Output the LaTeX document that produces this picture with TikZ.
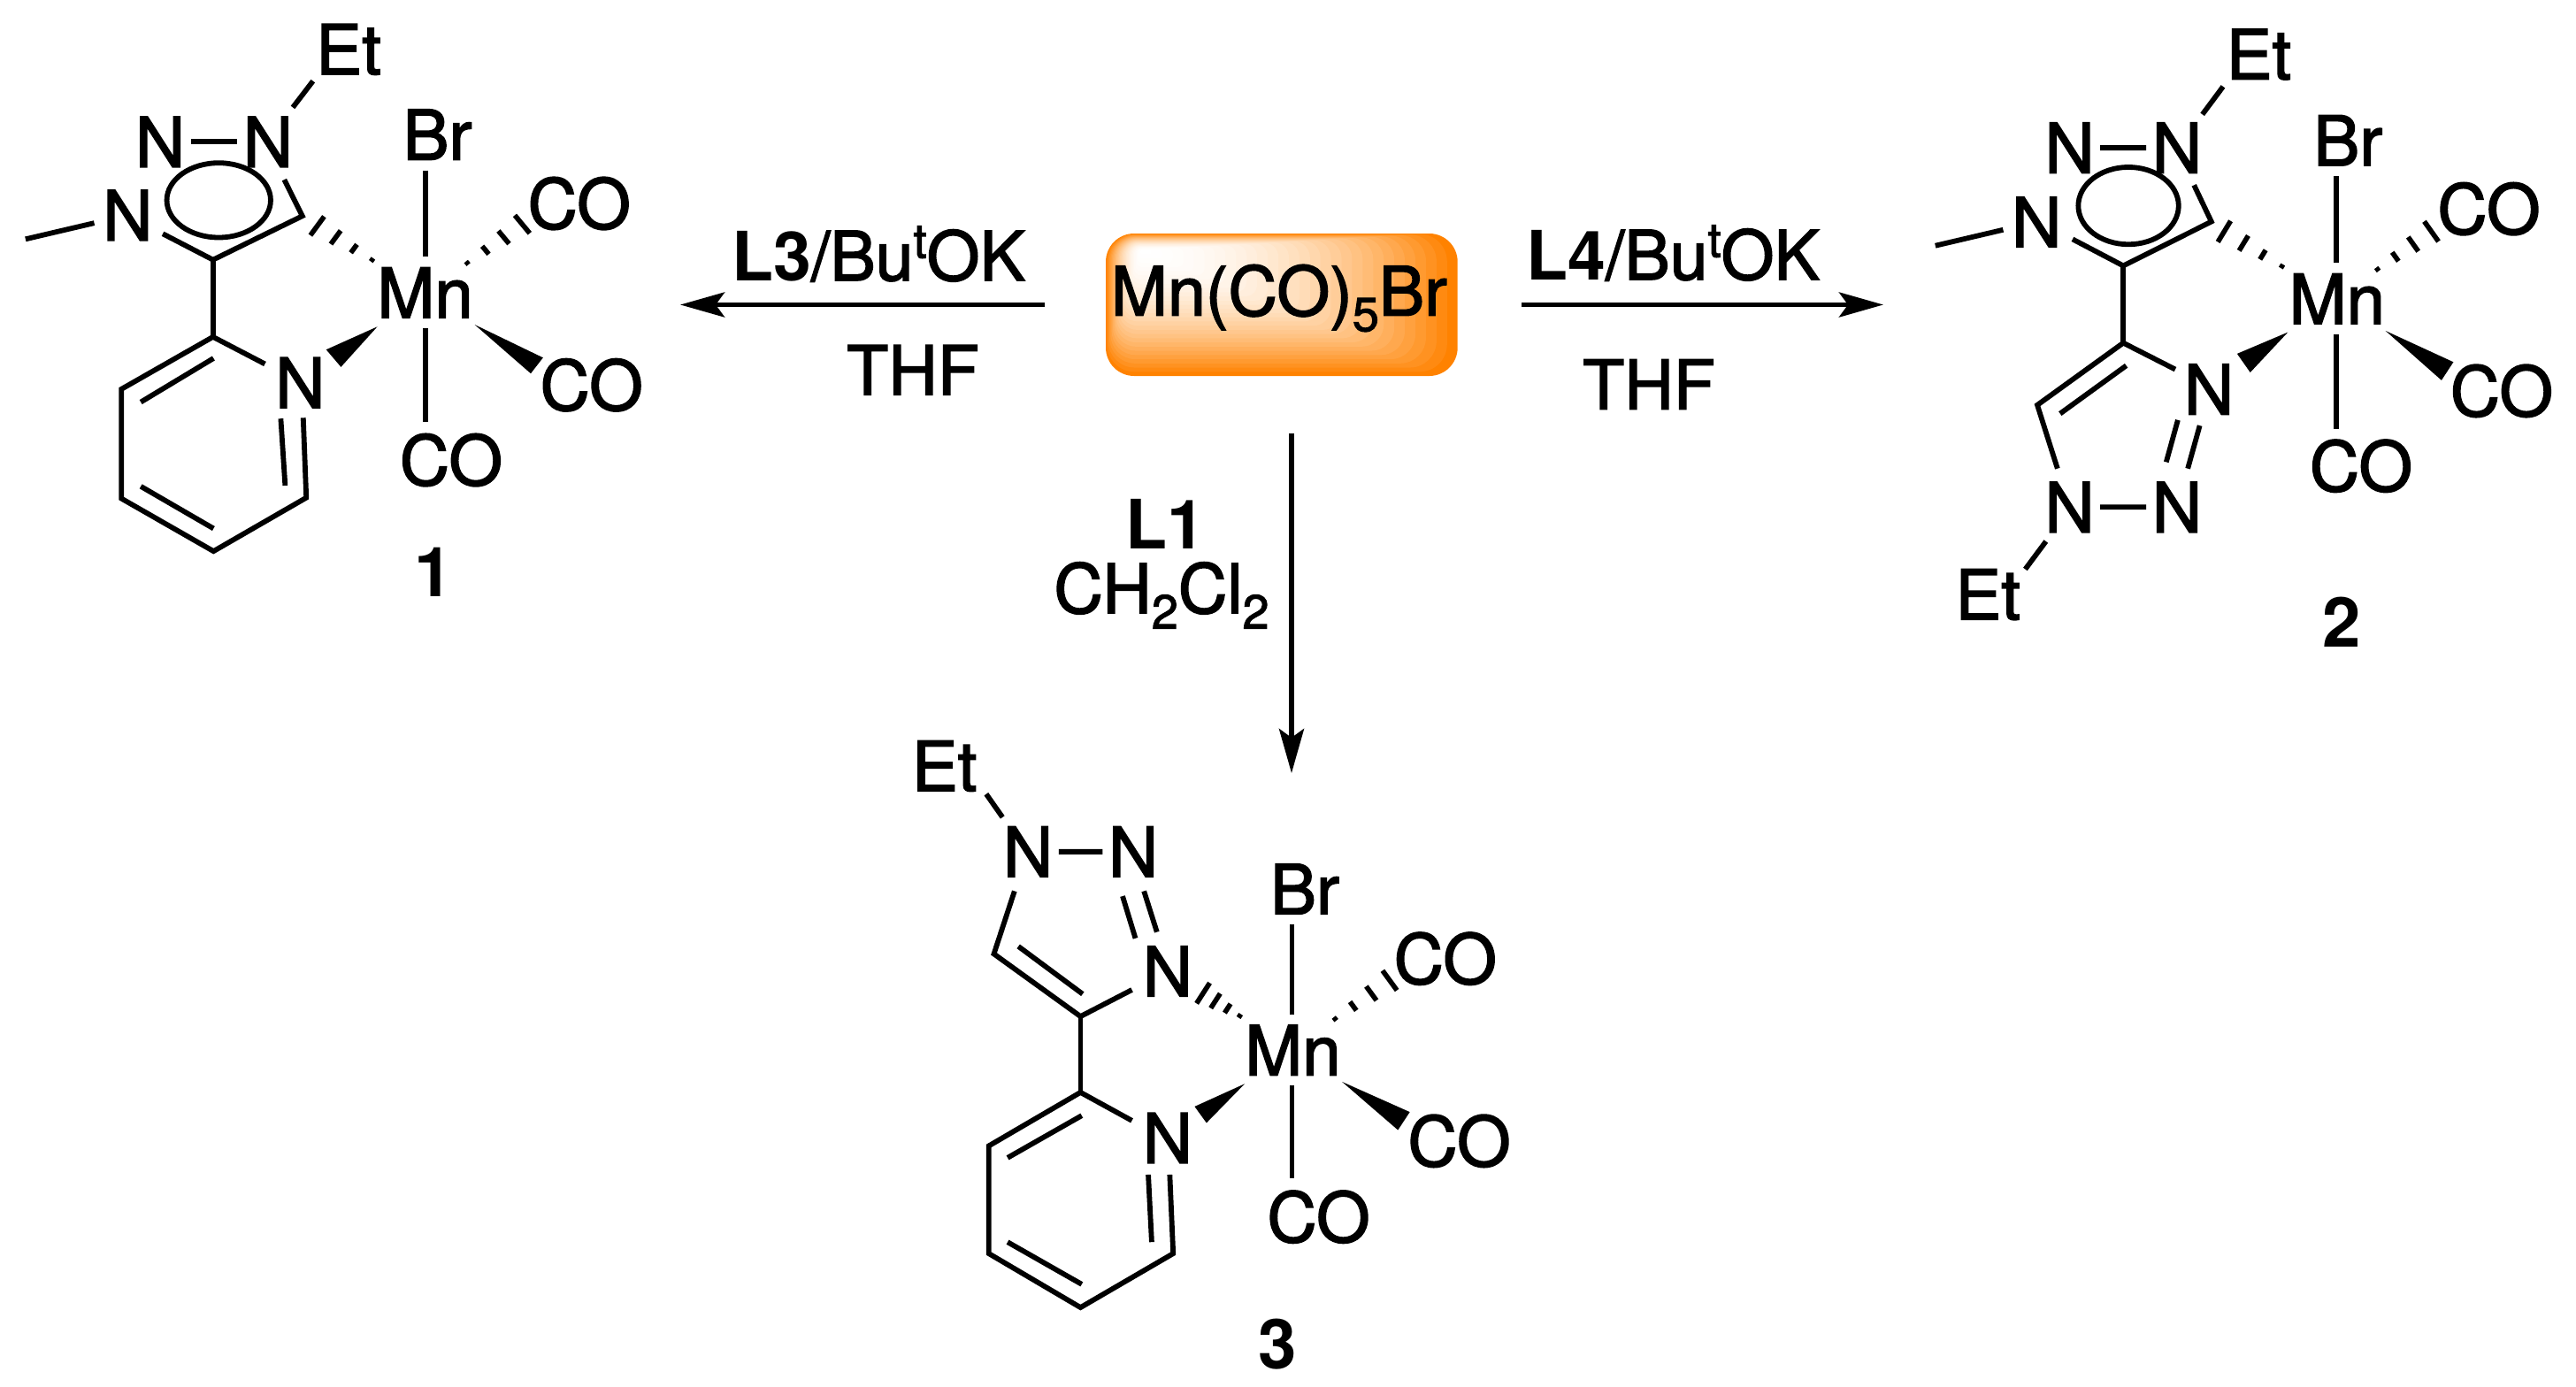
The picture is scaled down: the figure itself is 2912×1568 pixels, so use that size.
\documentclass[tikz,border=0pt]{standalone}
\usepackage{fontspec}
\setmainfont{TeX Gyre Heros}[FakeBold=2,BoldFeatures={FakeBold=0}]
\usetikzlibrary{arrows.meta,calc}
% 1 reference pixel = 0.5pt, y pointing down
\tikzset{
  x=0.5pt,y=-0.5pt,
  chem/.style={font=\fontsize{39}{42}\selectfont},
  reagent/.style={font=\fontsize{38.5}{42}\selectfont,inner sep=0pt,anchor=base},
  atom/.style={chem,circle,inner sep=-2pt},
  lab/.style={chem,rectangle,inner sep=0pt,minimum height=#1},
  lab/.default=40pt,
  cmpd/.style={inner sep=0pt,anchor=base,font=\fontsize{39}{42}\selectfont\bfseries},
  bond/.style={line width=2.9pt,line cap=butt,line join=miter},
  rxn/.style={line width=2.8pt,-{Stealth[length=25pt,width=14pt,inset=5pt]}},
}
\definecolor{mnorange}{RGB}{255,130,0}
% \wedgeb{tip}{end}{half width}
\newcommand{\wedgeb}[3]{\fill ($(#1)$) -- ($(#2)!#3!90:(#1)$) -- ($(#2)!#3!-90:(#1)$) -- cycle;}
% \hashb{tip}{end}: four marks growing away from the tip
\newcommand{\hashb}[2]{%
  \foreach \t/\w in {0.02/1.2pt,0.345/3.1pt,0.67/5pt,1.0/7pt}{%
    \draw[line width=2.8pt] ($(#1)!\t!(#2)$) coordinate (hh) ($(hh)!\w!90:(#1)$) -- ($(hh)!\w!-90:(#1)$);}}
\newcommand{\ssub}[1]{\raisebox{-8.8pt}{\fontsize{27}{27}\selectfont #1}}
\newcommand{\ssup}[1]{\raisebox{12.7pt}{\fontsize{27}{27}\selectfont #1}}
\begin{document}
\begin{tikzpicture}
\useasboundingbox (0,0) rectangle (2912,1568);
% ---------- central reagent: nested rounded boxes shrinking towards the white spot
\foreach \i in {30,29,...,1}{
  \pgfmathsetmacro{\s}{\i/30}
  \pgfmathsetmacro{\mixp}{100*\s*\s}
  \pgfmathsetmacro{\rad}{15*\s+1}
  \fill[mnorange!\mixp!white,rounded corners=\rad pt]
    ({1290-40*\s},{283-19*\s}) rectangle ({1290+357.7*\s},{283+142*\s});
}
\node[reagent,anchor=center,minimum width=198.85pt,text height=46.35pt,text depth=34.15pt] (mn) at (1448.85,344.5) {Mn(CO)\ssub{5}Br\kern3pt};
\coordinate (a1) at (769,344.5);
\coordinate (a2) at (2129,344.5);
\coordinate (a3) at (1460,874);
\draw[rxn,shorten <=34.3pt] (mn.west) -- (a1);
\draw[rxn,shorten <=36pt] (mn.east) -- (a2);
\draw[rxn,shorten <=32.5pt] (mn.south -| a3) -- (a3);
\node[reagent] (r1) at (993,317) {\textbf{L3}/Bu\ssup{t}OK};
\node[reagent] (r2) at (1032,446.4) {THF};
\node[reagent] (r3) at (1891,316) {\textbf{L4}/Bu\ssup{t}OK};
\node[reagent] (r4) at (1864,462.5) {THF};
\node[reagent] (r5) at (1317,620.5) {\textbf{L1}};
\node[reagent] (r6) at (1313,693) {CH\ssub{2}Cl\ssub{2}};
% ---------- compound 1
\begin{scope}[xscale=.995,yscale=.9164]
\node[lab] (aEt) at (396,61) {Et};
\node[atom] (aN1) at (304.5,175) {N};
\node[atom] (aN2) at (182,175) {N};
\node[atom] (aN3) at (145,265.5) {N};
\node[atom] (aNp) at (341,472) {N};
\node[lab] (aBr) at (497,166) {Br};
\node[lab] (aMn) at (483,361) {Mn};
\node[lab] (aCO1) at (658,251) {CO};
\node[lab] (aCO2) at (672,475) {CO};
\node[lab=42.5pt] (aCO3) at (512.5,567.5) {CO};
\node[cmpd] (a1l) at (493,735.5) {1};
\coordinate (aM) at (483.3,361);
\coordinate (aMe) at (29,295);
\coordinate (ac5) at (343.5,266.5);
\coordinate (ac4) at (242,320.5);
\coordinate (ac2) at (242,415.6);
\coordinate (ac3) at (138,480);
\coordinate (ac4p) at (138,615);
\coordinate (ac5p) at (242.6,680);
\coordinate (ac6) at (348,614);
\coordinate (ad1a) at (242.6,442);\coordinate (ad1b) at (160,496);
\coordinate (ad2a) at (160,600);\coordinate (ad2b) at (242.6,652);
\coordinate (ad3a) at (319,516.4);\coordinate (ad3b) at (324,599);
\coordinate (ad4a) at (344.5,515.4);
\coordinate (ae1) at (355.6,100);\coordinate (ae2) at (332.7,132.5);
\coordinate (ar1) at (323,221.7);\coordinate (ar2) at (185,288.4);
\coordinate (as1) at (301,449);
\coordinate (ah1a) at (424,321.5);\coordinate (ah1b) at (360.5,278.7);
\coordinate (ah2a) at (529.6,325.4);\coordinate (ah2b) at (593.4,276.7);
\coordinate (aw1a) at (428.7,403);\coordinate (aw1b) at (379,442);
\coordinate (aw2a) at (539.3,400.5);\coordinate (aw2b) at (610,451);
\draw[bond] (ae1) -- (ae2);
\draw[bond] (aN2) -- (aN1);
\draw[bond,shorten >=2pt] (aMe) -- (aN3);
\draw[bond] (ar1) -- (ac5) -- (ac4) -- (ar2);
\draw[bond] (ac4) -- (ac2);
\draw[bond] (as1) -- (ac2) -- (ac3) -- (ac4p) -- (ac5p) -- (ac6) -- (ad4a);
\draw[bond] (ad1a) -- (ad1b);
\draw[bond] (ad2a) -- (ad2b);
\draw[bond] (ad3a) -- (ad3b);
\draw[bond] (248.5,247) ellipse [x radius=59,y radius=46];
\draw[bond] (aBr.south -| aM) -- (aMn.north -| aM);
\draw[bond] (aMn.south -| aM) -- (aCO3.north -| aM);
\hashb{ah1a}{ah1b}
\hashb{ah2a}{ah2b}
\wedgeb{aw1a}{aw1b}{6.8pt}
\wedgeb{aw2a}{aw2b}{6pt}
\end{scope}
% ---------- compound 2
\begin{scope}[shift={(11.4,0)},xscale=.9947,yscale=.992]
\node[lab] (bEt) at (2555.5,62) {Et};
\node[atom] (bN1) at (2462.6,168.5) {N};
\node[atom] (bN2) at (2340.5,168.5) {N};
\node[atom] (bN3) at (2303,253) {N};
\node[atom] (bNp) at (2499,443.6) {N};
\node[atom] (bNr) at (2462.6,578) {N};
\node[atom] (bNl) at (2340.5,578) {N};
\node[lab] (bEtb) at (2247.7,677.6) {Et};
\node[lab] (bBr) at (2657,160) {Br};
\node[lab] (bMn) at (2644.4,340.5) {Mn};
\node[lab] (bCO1) at (2817,238) {CO};
\node[lab] (bCO2) at (2831.5,445.5) {CO};
\node[lab=41pt] (bCO3) at (2671.7,531) {CO};
\node[cmpd] (b1l) at (2650,737) {2};
\coordinate (bM) at (2643.9,340.5);
\coordinate (bMe) at (2188,280);
\coordinate (bc5) at (2501.7,252.6);
\coordinate (bc4) at (2401.6,302.9);
\coordinate (bc2) at (2401.6,390.8);
\coordinate (bc3) at (2303.9,461.6);
\coordinate (bq1) at (2326.8,534);
\coordinate (bd1a) at (2405,416.7);\coordinate (bd1b) at (2329.8,471.4);
\coordinate (bd2a) at (2463.6,478.7);\coordinate (bd2b) at (2450.4,526.6);
\coordinate (bd3a) at (2488.5,485);\coordinate (bd3b) at (2474.9,534);
\coordinate (be1) at (2515,98.7);\coordinate (be2) at (2491.5,130.4);
\coordinate (be3) at (2313.7,617);\coordinate (be4) at (2290.2,648.7);
\coordinate (br1) at (2482,211);\coordinate (br2) at (2344,272.6);
\coordinate (bs1) at (2460.7,421);
\coordinate (bh1a) at (2583.3,304.3);\coordinate (bh1b) at (2516.4,263.8);
\coordinate (bh2a) at (2689.3,307.8);\coordinate (bh2b) at (2751.8,263.8);
\coordinate (bw1a) at (2588.7,378.6);\coordinate (bw1b) at (2538.4,413.8);
\coordinate (bw2a) at (2699.6,377);\coordinate (bw2b) at (2770,423);
\draw[bond] (be1) -- (be2);
\draw[bond] (be3) -- (be4);
\draw[bond] (bN2) -- (bN1);
\draw[bond] (bNl) -- (bNr);
\draw[bond,shorten >=2pt] (bMe) -- (bN3);
\draw[bond] (br1) -- (bc5) -- (bc4) -- (br2);
\draw[bond] (bc4) -- (bc2);
\draw[bond] (bs1) -- (bc2) -- (bc3) -- (bq1);
\draw[bond] (bd1a) -- (bd1b);
\draw[bond] (bd2a) -- (bd2b);
\draw[bond] (bd3a) -- (bd3b);
\draw[bond] (2407.4,234.5) ellipse [x radius=57,y radius=44];
\draw[bond] (bBr.south -| bM) -- (bMn.north -| bM);
\draw[bond] (bMn.south -| bM) -- (bCO3.north -| bM);
\hashb{bh1a}{bh1b}
\hashb{bh2a}{bh2b}
\wedgeb{bw1a}{bw1b}{6.5pt}
\wedgeb{bw2a}{bw2b}{6.2pt}
\end{scope}
% ---------- compound 3
\begin{scope}[shift={(5,17.2)},xscale=.995,yscale=.979]
\node[lab] (cEt) at (1068,867) {Et};
\node[atom] (cN1) at (1163,966) {N};
\node[atom] (cN2) at (1282.6,966) {N};
\node[atom] (cN3) at (1321.5,1104) {N};
\node[atom] (cNp) at (1321.5,1296.5) {N};
\node[lab] (cBr) at (1477.4,1009) {Br};
\node[lab] (cMn) at (1463.8,1195) {Mn};
\node[lab] (cCO1) at (1637,1089.4) {CO};
\node[lab] (cCO2) at (1652.8,1300) {CO};
\node[lab=43pt] (cCO3) at (1493,1387.6) {CO};
\node[cmpd] (c1l) at (1446,1562.6) {3};
\coordinate (cM) at (1462.8,1195);
\coordinate (cc1) at (1147.6,1011.5);
\coordinate (cc5) at (1124.2,1084);
\coordinate (cc4) at (1222.6,1156.2);
\coordinate (cr2) at (1281,1125.5);
\coordinate (cc2) at (1222.6,1243.9);
\coordinate (cc3) at (1118.4,1305.7);
\coordinate (cc4p) at (1118.4,1430);
\coordinate (cc5p) at (1222.6,1492.3);
\coordinate (cc6) at (1327.9,1430);
\coordinate (cd4a) at (1324,1338.9);
\coordinate (cs1) at (1281,1276.5);
\coordinate (cd0a) at (1152,1075.3);\coordinate (cd0b) at (1225,1130.3);
\coordinate (cd1a) at (1224,1270.7);\coordinate (cd1b) at (1139.8,1319.4);
\coordinate (cd2a) at (1139.8,1416.8);\coordinate (cd2b) at (1224,1465.5);
\coordinate (cd3a) at (1299.6,1338.9);\coordinate (cd3b) at (1303.5,1416.8);
\coordinate (cd5a) at (1270.4,1017.3);\coordinate (cd5b) at (1285,1066);
\coordinate (cd6a) at (1294.7,1011.5);\coordinate (cd6b) at (1309.4,1058.7);
\coordinate (ce1) at (1115.5,899.4);\coordinate (ce2) at (1134,926.2);
\coordinate (ch1a) at (1404.4,1156.2);\coordinate (ch1b) at (1362,1129.4);
\coordinate (ch2a) at (1510.6,1160);\coordinate (ch2b) at (1574,1114.7);
\coordinate (cw1a) at (1409.2,1234);\coordinate (cw1b) at (1359,1269.7);
\coordinate (cw2a) at (1519.8,1231.7);\coordinate (cw2b) at (1590,1277);
\draw[bond] (ce1) -- (ce2);
\draw[bond] (cN1) -- (cN2);
\draw[bond] (cc1) -- (cc5) -- (cc4) -- (cr2);
\draw[bond] (cc4) -- (cc2);
\draw[bond] (cs1) -- (cc2) -- (cc3) -- (cc4p) -- (cc5p) -- (cc6) -- (cd4a);
\draw[bond] (cd0a) -- (cd0b);
\draw[bond] (cd1a) -- (cd1b);
\draw[bond] (cd2a) -- (cd2b);
\draw[bond] (cd3a) -- (cd3b);
\draw[bond] (cd5a) -- (cd5b);
\draw[bond] (cd6a) -- (cd6b);
\draw[bond] (cBr.south -| cM) -- (cMn.north -| cM);
\draw[bond] (cMn.south -| cM) -- (cCO3.north -| cM);
\hashb{ch1a}{ch1b}
\hashb{ch2a}{ch2b}
\wedgeb{cw1a}{cw1b}{5.8pt}
\wedgeb{cw2a}{cw2b}{6.2pt}
\end{scope}
\end{tikzpicture}
\end{document}
